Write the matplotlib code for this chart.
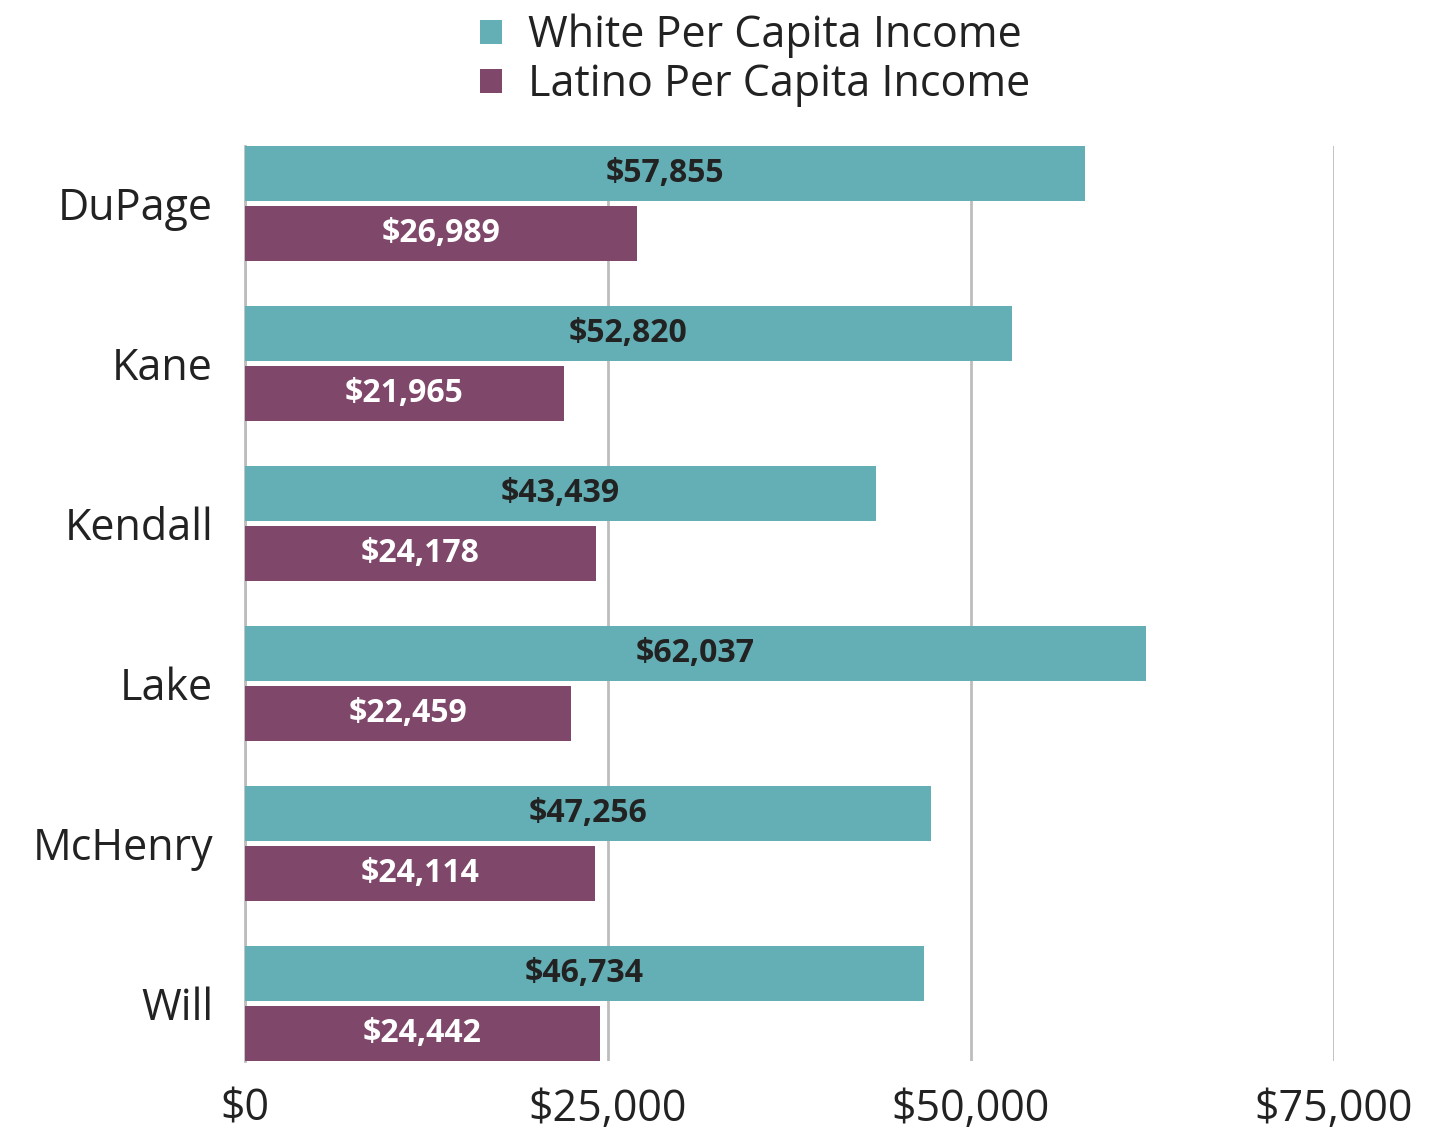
import numpy as np
import matplotlib
matplotlib.use("Agg")
import matplotlib.pyplot as plt
from matplotlib.ticker import FuncFormatter

plt.rcParams['font.family'] = ['Open Sans', 'DejaVu Sans']

# data
counties = ['DuPage', 'Kane', 'Kendall', 'Lake', 'McHenry', 'Will']
white_income = [57855, 52820, 43439, 62037, 47256, 46734]
latino_income = [26989, 21965, 24178, 22459, 24114, 24442]
x_ticks = [0, 25000, 50000, 75000]

teal = '#63AFB5'
plum = '#7F4769'

fig = plt.figure(figsize=(14.3, 11.33), dpi=100)
ax = fig.add_axes([245 / 1430, 1 - 1061 / 1133, (1334 - 245) / 1430, (1061 - 146) / 1133])

y = np.arange(len(counties))
off = 0.1875
h = 0.344

b1 = ax.barh(y - off, white_income, height=h, color=teal, label='White Per Capita Income', zorder=3)
b2 = ax.barh(y + off, latino_income, height=h, color=plum, label='Latino Per Capita Income', zorder=3)

for bar, v in zip(b1, white_income):
    ax.text(v / 2, bar.get_y() + bar.get_height() / 2, f'${v:,}', ha='center', va='center',
            fontsize=23, fontweight='bold', color='#222222', zorder=4)
for bar, v in zip(b2, latino_income):
    ax.text(v / 2, bar.get_y() + bar.get_height() / 2, f'${v:,}', ha='center', va='center',
            fontsize=23, fontweight='bold', color='white', zorder=4)

ax.set_xlim(0, 75000)
ax.set_ylim(len(counties) - 1 + off + h / 2, -off - h / 2)
ax.set_xticks(x_ticks)
ax.xaxis.set_major_formatter(FuncFormatter(lambda v, p: f'${int(v):,}'))
ax.set_yticks(y)
ax.set_yticklabels(counties)
ax.tick_params(axis='x', length=0, labelsize=31, pad=19, colors='#222222')
ax.tick_params(axis='y', length=0, labelsize=31, pad=23, colors='#222222')
ax.grid(axis='x', color='#BDBDBD', linewidth=2, zorder=0)
for s in ['top', 'right', 'bottom']:
    ax.spines[s].set_visible(False)
ax.spines['left'].set_color('#BDBDBD')
ax.spines['left'].set_linewidth(2)

fig.legend(handles=[b1, b2], loc='upper center', bbox_to_anchor=(0.528, 1.022), ncol=1,
           frameon=False, fontsize=31, handlelength=0.5, handleheight=0.5,
           handletextpad=0.6, labelspacing=0.1, labelcolor='#222222')

fig.savefig('out.png', dpi=100, facecolor='white')
